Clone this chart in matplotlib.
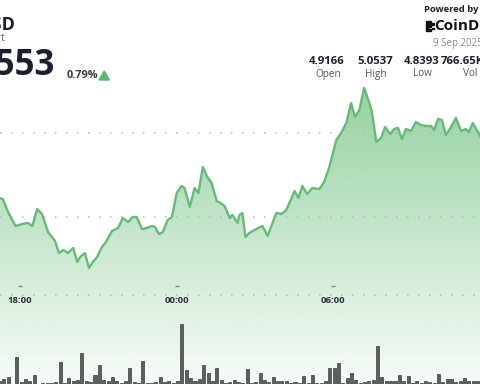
import numpy as np
import matplotlib
matplotlib.use("Agg")
import matplotlib.pyplot as plt
from matplotlib.transforms import blended_transform_factory

plt.rcParams['font.family'] = ['Open Sans', 'DejaVu Sans']

# price line: minutes after 18:00, price in USD
t_min = [-47, -40, -28, -11, 5, 18, 28, 39, 50, 64, 80, 89, 99, 110, 122, 131,
         138, 149, 158, 167, 177, 188, 197, 211, 225, 236, 248, 259, 268, 280,
         291, 303, 310, 319, 328, 339, 349, 360, 371, 378, 390, 401, 410, 420,
         429, 440, 452, 461, 470, 482, 488, 500, 504, 511, 518, 527, 543, 557,
         569, 589, 601, 612, 631, 640, 649, 660, 672, 688, 699, 711, 727, 738,
         750, 761, 770, 780, 791, 803, 809, 819, 830, 839, 851, 860, 869, 878,
         887, 899, 910, 922, 933, 945, 952, 961, 970, 979, 991, 1002, 1014,
         1025, 1032, 1041, 1058]
price = [4.9226, 4.9214, 4.9060, 4.8893, 4.8917, 4.8929, 4.8893, 4.9095, 4.9036,
         4.8821, 4.8714, 4.8571, 4.8607, 4.8571, 4.8631, 4.8464, 4.8524, 4.8571,
         4.8393, 4.8464, 4.8524, 4.8643, 4.8702, 4.8833, 4.8869, 4.8988, 4.8940,
         4.9000, 4.9000, 4.8857, 4.8869, 4.8893, 4.8881, 4.8798, 4.8821, 4.8964,
         4.9000, 4.9286, 4.9369, 4.9345, 4.9119, 4.9345, 4.9286, 4.9595, 4.9488,
         4.9405, 4.9190, 4.9167, 4.9131, 4.8988, 4.9024, 4.8929, 4.9024, 4.9048,
         4.8762, 4.8810, 4.8857, 4.8893, 4.8774, 4.9048, 4.9036, 4.9083, 4.9310,
         4.9226, 4.9369, 4.9274, 4.9345, 4.9333, 4.9417, 4.9595, 4.9917, 5.0000,
         5.0119, 5.0357, 5.0190, 5.0274, 5.0536, 5.0357, 5.0250, 4.9893, 4.9940,
         5.0071, 4.9988, 5.0048, 5.0060, 4.9929, 5.0048, 5.0024, 5.0131, 5.0095,
         5.0083, 5.0083, 5.0036, 5.0167, 5.0155, 4.9976, 5.0071, 5.0179, 5.0024,
         5.0048, 5.0012, 5.0119, 4.9964]

# 10-minute volume bars, starting 17:10
vol_start = -50
volume = [3, 5, 7, 0.5, 27, 2, 5, 3, 9, 0.5, 1, 1, 1, 2, 22, 1, 6, 3, 4, 31,
          3, 2, 9, 19, 4, 3, 7, 3,
          1, 3, 16, 2, 1, 23, 1, 1, 2, 7, 2, 3, 1, 3, 60, 14, 6, 3, 5, 19,
          11, 3, 16, 4, 1, 2, 4, 2,
          1, 15, 1, 2, 11, 4, 2, 7, 3, 3, 3, 1, 2, 1, 8, 1, 9, 1, 1, 3,
          16, 16, 21, 1, 6, 11, 4, 1,
          2, 3, 4, 38, 7, 3, 3, 3, 9, 3, 8, 1, 3, 1, 3, 2, 1, 10, 2, 5,
          5, 2, 3, 6, 3, 3, 3]
vol_t = vol_start + 10 * np.arange(len(volume))

tick_min = [0, 360, 720]
tick_lbl = ["18:00", "00:00", "06:00"]
grid_prices = [4.90, 5.00]
price_floor = 4.807

stat_vals = ["4.9166", "5.0537", "4.8393", "766.65K"]
stat_lbls = ["Open", "High", "Low", "Vol"]

W, H = 480, 384
fig = plt.figure(figsize=(4.8, 3.84), dpi=100)
fig.patch.set_facecolor('white')
ax = fig.add_axes([0, 0, 1, 1])
xmin, xmax = -46.5, 1057.5
ymin, ymax = 4.7012, 5.1583
ax.set_xlim(xmin, xmax)
ax.set_ylim(ymin, ymax)
ax.axis('off')

t = np.array(t_min)
p = np.array(price)

# gradient fill under line
poly = ax.fill_between(t, p, ymin, color='none', lw=0)
green = np.array([108, 192, 124]) / 255
n = 256
alpha = np.linspace(0.72, 0.05, n)
grad = np.ones((n, 1, 4))
grad[:, 0, :3] = green
grad[:, 0, 3] = alpha
im = ax.imshow(grad, extent=[xmin, xmax, ymin, max(p)], aspect='auto',
               origin='upper', zorder=1, interpolation='bilinear')
im.set_clip_path(poly.get_paths()[0], transform=ax.transData)
ax.set_xlim(xmin, xmax)
ax.set_ylim(ymin, ymax)

# dotted grid
for g in grid_prices + [price_floor]:
    ax.axhline(g, color='#b8b8b8', lw=1.1, ls=(0, (1, 6.2)), zorder=2)

ax.plot(t, p, color='#66bb78', lw=1.7, zorder=3, solid_joinstyle='round')

# x ticks
trans = blended_transform_factory(ax.transData, ax.transAxes)
for tm, lb in zip(tick_min, tick_lbl):
    ax.plot([tm], [1 - 286 / H], marker='_', ms=2.5, color='#888888',
            transform=trans, zorder=4)
    ax.text(tm, 1 - 300.5 / H, lb, transform=trans, ha='center', va='center',
            fontsize=6.8, fontweight='bold', color='#2b2f3a', zorder=4)

# volume panel
vax = fig.add_axes([0, 0, 1, 74 / H])
vax.patch.set_alpha(0)
vax.set_xlim(xmin, xmax)
vax.set_ylim(0, max(volume) * 74 / 60)
vax.axis('off')
vax.bar(vol_t + 2, volume, width=7, color='#5c615c', edgecolor='#3a3e3a',
        lw=0.5)

def ftxt(x, y, s, **kw):
    fig.text(x / W, 1 - y / H, s, **kw)

# header left (cropped at the left edge, as in the source)
ftxt(15, 25, "USD", ha='right', va='center', fontsize=13, fontweight='bold',
     color='#1b2030')
ftxt(5.5, 38.5, "Chart", ha='right', va='center', fontsize=7.5, color='#666666')
ftxt(55, 66, "4.9553", ha='right', va='center', fontsize=25, fontweight='bold',
     color='#1b2030')
ftxt(67, 75.5, "0.79%", ha='left', va='center', fontsize=7.8, fontweight='bold',
     color='#3a3a3a')
tri = plt.Polygon([[99 / W, 1 - 80 / H], [109.5 / W, 1 - 80 / H],
                   [104.25 / W, 1 - 71 / H]], closed=True,
                  transform=fig.transFigure, color='#5cb86f')
fig.patches.append(tri)

# header right
ftxt(451, 10, "Powered by", ha='center', va='center', fontsize=6.8,
     fontweight='bold', color='#222222')
for (bx, by, bw, bh) in [(426, 21, 2, 10), (428, 21, 3, 2), (428, 29, 3, 2),
                         (428.5, 24.5, 2, 2), (432, 23, 1.5, 1.5),
                         (432, 27.5, 1.5, 1.5)]:
    fig.patches.append(plt.Rectangle((bx / W, 1 - (by + bh) / H), bw / W, bh / H,
                                     transform=fig.transFigure, color='#111111'))
ftxt(434.5, 26.5, "CoinDesk", ha='left', va='center', fontsize=11,
     fontweight='bold', color='#111111')
ftxt(433, 43.5, "9 Sep 2025", ha='left', va='center', fontsize=7,
     color='#8a8a8a')

stat_x = [327, 375, 422]
lbl_x = [328, 375.5, 422, 470]
for sx, v in zip(stat_x, stat_vals[:3]):
    ftxt(sx, 61, v, ha='center', va='center', fontsize=8.2, fontweight='bold',
         color='#1b2030')
ftxt(440.5, 61, stat_vals[3], ha='left', va='center', fontsize=8.2,
     fontweight='bold', color='#1b2030')
for lx, l in zip(lbl_x, stat_lbls):
    ftxt(lx, 74, l, ha='center', va='center', fontsize=7.2, color='#555555')

fig.savefig("out.png", dpi=100)
